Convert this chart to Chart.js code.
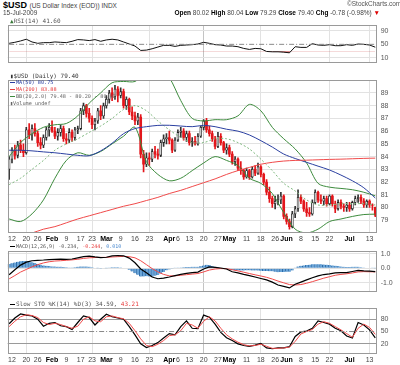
<!DOCTYPE html>
<html><head><meta charset="utf-8">
<script src="https://cdn.jsdelivr.net/npm/chart.js@4.4.1/dist/chart.umd.min.js"></script>
<style>
html,body{margin:0;padding:0;background:#fff}
body{width:400px;height:365px;position:relative;overflow:hidden;font-family:"Liberation Sans",Arial,sans-serif}
canvas{position:absolute;left:0}
.t{position:absolute;white-space:nowrap;line-height:1;z-index:5}
.m{font-family:"DejaVu Sans Mono",monospace;color:#555}
.dash{display:inline-block;width:5px;height:0;border-top:1px solid;vertical-align:middle;margin-right:1px}
</style></head><body>
<canvas id="rsi" width="400" height="54" style="top:17px"></canvas>
<canvas id="price" width="400" height="171" style="top:72px"></canvas>
<canvas id="macd" width="400" height="57" style="top:243px"></canvas>
<canvas id="sto" width="400" height="65" style="top:300px"></canvas>

<div class="t" style="left:3px;top:1px;font-size:9px;font-weight:bold;color:#000">$USD <span style="font-size:6.5px;font-weight:normal;color:#444">(US Dollar Index (EOD)) INDX</span></div>
<div class="t" style="left:3px;top:10px;font-size:6.5px;color:#444">15-Jul-2009</div>
<div class="t" style="left:347px;top:1px;font-size:6.5px;color:#555">&copy;StockCharts.com</div>
<div class="t" style="right:20px;top:10px;font-size:6.5px;color:#444"><b style="color:#000">Open</b> 80.02 <b style="color:#000">High</b> 80.04 <b style="color:#000">Low</b> 79.29 <b style="color:#000">Close</b> 79.40 <b style="color:#000">Chg</b> -0.78 (-0.98%) <span style="color:#d00">&#9660;</span></div>

<div class="t m" style="left:10px;top:18px;font-size:6px"><span style="color:#3a7a3a">&#9650;</span>RSI(14) 41.60</div>

<div class="t m" style="left:10px;top:73px;font-size:6px;color:#333">&#9646;$USD (Daily) 79.40</div>
<div class="t m" style="left:10px;top:80px;font-size:5.2px;color:#2a3fa0"><span class="dash" style="border-color:#2a3fa0"></span>MA(50) 80.75</div>
<div class="t m" style="left:10px;top:87px;font-size:5.2px;color:#e83c3c"><span class="dash" style="border-color:#e83c3c"></span>MA(200) 83.88</div>
<div class="t m" style="left:10px;top:94px;font-size:5.2px;color:#666"><span class="dash" style="border-color:#3d8b3d"></span>BB(20,2.0) 79.48 - 80.20 - 80.92</div>
<div class="t m" style="left:10px;top:101px;font-size:5.2px;color:#666">&#9646;Volume undef</div>

<div class="t m" style="left:10px;top:244px;font-size:5px;color:#555;background:#fff"><span class="dash" style="border-color:#000"></span>MACD(12,26,9) -0.234, <span style="color:#e83c3c">-0.244</span>, <span style="color:#4a8ad0">0.010</span></div>
<div class="t m" style="left:10px;top:301px;font-size:6px;color:#555"><span class="dash" style="border-color:#000"></span>Slow STO %K(14) %D(3) 34.59, <span style="color:#e83c3c">43.21</span></div>

<script>
// ---------- categories (trading days) ----------
const dates = ['1/9','1/12','1/13','1/14','1/15','1/16','1/20','1/21','1/22','1/23','1/26','1/27','1/28','1/29','1/30',
'2/2','2/3','2/4','2/5','2/6','2/9','2/10','2/11','2/12','2/13','2/17','2/18','2/19','2/20','2/23','2/24','2/25','2/26','2/27',
'3/2','3/3','3/4','3/5','3/6','3/9','3/10','3/11','3/12','3/13','3/16','3/17','3/18','3/19','3/20','3/23','3/24','3/25','3/26','3/27','3/30','3/31',
'4/1','4/2','4/3','4/6','4/7','4/8','4/9','4/13','4/14','4/15','4/16','4/17','4/20','4/21','4/22','4/23','4/24','4/27','4/28','4/29','4/30',
'5/1','5/4','5/5','5/6','5/7','5/8','5/11','5/12','5/13','5/14','5/15','5/18','5/19','5/20','5/21','5/22','5/26','5/27','5/28','5/29',
'6/1','6/2','6/3','6/4','6/5','6/8','6/9','6/10','6/11','6/12','6/15','6/16','6/17','6/18','6/19','6/22','6/23','6/24','6/25','6/26','6/29','6/30',
'7/1','7/2','7/6','7/7','7/8','7/9','7/10','7/13','7/14','7/15'];

// ---------- price (OHLC) ----------
const open = [83.0,83.8,84.5,84.1,84.9,84.5,84.3,86.1,85.7,86.2,85.8,85.1,84.9,85.5,86.1,
86.3,86.0,85.6,85.9,86.2,85.4,85.3,85.9,85.5,86.1,86.2,87.6,88.0,87.4,87.0,86.5,86.8,87.6,87.2,
88.0,88.5,89.0,88.7,89.3,88.8,89.1,88.0,88.5,87.5,87.2,86.8,87.1,84.2,83.4,83.9,83.8,84.4,84.2,84.1,85.1,85.4,
85.5,85.3,84.5,85.3,85.9,86.0,85.5,85.8,85.1,85.2,85.0,85.6,86.3,86.8,86.1,85.8,85.4,84.8,85.6,85.1,84.5,
84.7,84.2,83.6,83.8,83.1,82.9,82.4,82.9,82.4,83.0,82.7,83.2,82.6,82.0,81.2,80.7,80.3,80.5,80.6,80.9,
79.3,78.9,78.5,79.5,79.9,80.8,80.5,79.9,79.6,79.5,80.4,81.2,80.6,80.5,80.7,80.3,80.9,80.3,79.9,80.4,80.1,80.0,
80.2,79.9,80.4,80.7,80.8,80.5,80.2,80.5,80.2,80.02];
const high = [84.0,84.7,84.9,85.2,85.3,85.0,86.3,86.6,86.5,86.6,86.0,85.5,85.7,86.3,86.6,
86.8,86.3,86.2,86.5,86.4,85.8,86.2,86.1,86.3,86.4,87.8,88.2,88.1,87.8,87.2,87.0,87.8,88.0,88.2,
88.8,89.2,89.4,89.6,89.5,89.4,89.3,88.7,88.6,87.9,87.5,87.4,87.3,84.5,84.3,84.3,84.6,84.8,84.6,85.3,85.7,85.8,
86.0,85.4,85.5,86.1,86.3,86.2,86.0,86.0,85.5,85.6,85.8,86.4,86.9,87.0,86.4,86.0,85.6,85.9,85.8,85.2,85.0,
84.9,84.4,84.0,83.9,83.6,83.0,83.1,83.0,83.2,83.3,83.5,83.3,82.7,82.2,81.6,80.9,80.9,81.0,81.2,81.0,
79.5,79.1,79.7,80.1,81.4,81.0,80.6,80.4,80.0,80.6,81.4,81.3,81.0,80.9,80.9,81.0,81.0,80.5,80.6,80.6,80.3,80.4,
80.4,80.5,80.9,81.0,81.0,80.7,80.6,80.6,80.3,80.04];
const low = [82.2,83.5,83.8,83.9,84.3,84.0,84.2,85.4,85.3,85.6,84.8,84.6,84.7,85.3,85.6,
85.9,85.4,85.3,85.6,85.2,85.0,85.1,85.2,85.3,85.8,86.1,87.3,87.1,86.7,86.2,86.1,86.6,86.9,87.0,
87.8,88.2,88.4,88.5,88.3,88.6,87.8,87.7,87.3,86.9,86.5,86.5,83.9,82.8,83.2,83.3,83.6,83.9,83.8,84.0,84.8,85.0,
85.0,84.3,84.4,85.2,85.5,85.3,85.2,84.9,84.8,84.9,84.9,85.5,86.1,85.9,85.6,85.2,84.6,84.7,84.9,84.3,84.2,
84.0,83.4,83.3,82.9,82.6,82.2,82.3,82.2,82.3,82.5,82.6,82.4,81.8,81.0,80.4,80.0,79.9,80.2,80.3,79.1,
78.7,78.3,78.4,79.2,79.7,80.3,79.7,79.3,79.3,79.4,80.3,80.4,80.3,80.2,80.1,80.2,80.1,79.6,79.8,79.9,79.7,79.7,
79.7,79.8,80.2,80.4,80.3,80.0,80.0,80.0,79.8,79.29];
const close = [83.8,84.5,84.1,84.9,84.5,84.3,86.1,85.7,86.2,85.8,85.1,84.9,85.5,86.1,86.3,
86.0,85.6,85.9,86.2,85.4,85.3,85.9,85.5,86.1,86.2,87.6,88.0,87.4,87.0,86.5,86.8,87.6,87.2,88.0,
88.5,89.0,88.7,89.3,88.8,89.1,88.0,88.5,87.5,87.2,86.8,87.1,84.2,83.4,83.9,83.8,84.4,84.2,84.1,85.1,85.4,85.5,
85.3,84.5,85.3,85.9,86.0,85.5,85.8,85.1,85.2,85.0,85.6,86.3,86.8,86.1,85.8,85.4,84.8,85.6,85.1,84.5,84.7,
84.2,83.6,83.8,83.1,82.9,82.4,82.9,82.4,83.0,82.7,83.2,82.6,82.0,81.2,80.7,80.3,80.5,80.6,80.9,79.3,
78.9,78.5,79.5,79.9,80.8,80.5,79.9,79.6,79.5,80.4,81.2,80.6,80.5,80.7,80.3,80.9,80.3,79.9,80.4,80.1,80.0,80.2,
79.9,80.4,80.7,80.8,80.5,80.2,80.5,80.2,80.18,79.40];

// ---------- overlays (sampled every 4 trading days) ----------
const lineDates = ['1/9','1/15','1/22','1/28','2/3','2/9','2/13','2/20','2/26','3/4','3/10','3/16','3/20','3/26','4/1','4/7','4/14',
'4/20','4/24','4/30','5/6','5/12','5/18','5/22','5/29','6/4','6/10','6/16','6/22','6/26','7/2','7/9','7/15'];
const ma50 = [84.5,84.5,84.45,84.37,84.3,84.2,84.1,84.07,84.45,85.05,85.8,86.2,86.35,86.45,86.46,86.4,86.35,
86.45,86.35,86.15,86.0,85.7,85.25,84.75,84.2,83.85,83.55,83.25,82.95,82.55,82.1,81.55,80.75];
const ma200 = [77.6,77.8,78.0,78.3,78.5,78.8,79.1,79.35,79.6,79.85,80.1,80.3,80.55,80.8,81.1,81.35,81.65,
81.95,82.25,82.6,82.9,83.15,83.4,83.55,83.65,83.7,83.72,83.75,83.78,83.8,83.83,83.86,83.88];
const bbUpper = [84.0,85.1,85.8,86.3,86.5,86.6,87.2,88.2,89.0,89.8,89.9,89.9,90.6,91.0,90.2,88.4,87.0,
86.8,86.9,86.9,87.2,88.1,87.6,86.3,85.4,84.6,83.5,81.9,81.6,81.5,81.4,81.2,80.92];
const bbMid = [81.8,82.3,83.0,83.7,84.5,85.0,85.4,85.9,86.4,87.0,87.7,88.0,87.6,86.8,86.1,85.5,85.1,
85.1,85.4,85.4,85.1,84.6,83.8,82.9,81.9,81.3,80.6,80.2,80.2,80.3,80.3,80.3,80.20];
const bbLower = [79.1,78.9,79.5,80.6,82.3,83.7,84.3,84.1,84.4,85.0,85.6,86.3,83.6,82.6,82.1,82.3,82.9,
83.5,84.0,83.7,83.3,82.3,81.9,81.1,79.6,78.3,78.0,78.3,78.9,79.1,79.3,79.45,79.48];

// ---------- oscillators (sampled every 2 trading days) ----------
const oscDates = ['1/9','1/13','1/15','1/20','1/22','1/26','1/28','1/30','2/3','2/5','2/9','2/11','2/13','2/18','2/20','2/24','2/26',
'3/2','3/4','3/6','3/10','3/12','3/16','3/18','3/20','3/24','3/26','3/30','4/1','4/3','4/7','4/9','4/14','4/16','4/20','4/22','4/24',
'4/28','4/30','5/4','5/6','5/8','5/12','5/14','5/18','5/20','5/22','5/27','5/29','6/2','6/4','6/8','6/10','6/12','6/16','6/18',
'6/22','6/24','6/26','6/30','7/2','7/7','7/9','7/13','7/15'];
const rsi = [53,56,60,65,57,53,55,55,57,56,55,59,64,63,61,64,59,63,65,63,57,51,45,32,33,37,42,47,47,44,47,48,49,51,56,
53,49,48,45,45,43,38,35,38,37,29,28,28,27,25,43,41,41,52,48,47,49,46,46,49,47,51,50,48,41.6];
const macd = [-0.44,-0.1,0.22,0.42,0.52,0.55,0.57,0.6,0.62,0.63,0.62,0.64,0.72,0.8,0.83,0.78,0.74,0.76,0.85,0.88,
0.86,0.7,0.38,-0.05,-0.3,-0.6,-0.72,-0.68,-0.6,-0.5,-0.42,-0.35,-0.3,-0.26,-0.05,0.1,0.06,0.02,-0.05,-0.24,
-0.32,-0.42,-0.5,-0.6,-0.7,-0.8,-0.95,-1.15,-1.25,-1.35,-1.1,-0.95,-0.8,-0.65,-0.52,-0.43,-0.38,-0.32,-0.3,-0.3,
-0.22,-0.15,-0.18,-0.2,-0.234];
const macdSignal = [-0.73,-0.5,-0.26,-0.08,0.1,0.25,0.37,0.45,0.5,0.52,0.55,0.58,0.62,0.68,0.72,0.74,0.75,0.75,0.78,0.8,
0.82,0.8,0.72,0.52,0.25,-0.02,-0.25,-0.42,-0.52,-0.52,-0.48,-0.44,-0.4,-0.36,-0.25,-0.12,-0.05,-0.02,-0.03,-0.1,
-0.18,-0.27,-0.36,-0.45,-0.53,-0.62,-0.74,-0.88,-1.0,-1.12,-1.15,-1.12,-1.03,-0.92,-0.8,-0.68,-0.58,-0.48,-0.42,-0.38,
-0.32,-0.25,-0.23,-0.24,-0.244];
const macdHist = [0.29,0.35,0.40,0.45,0.48,0.50,0.50,0.48,0.42,
0.36,0.30,0.25,0.20,0.17,0.15,0.13,0.12,
0.11,0.11,0.09,0.07,0.06,0.06,0.08,0.10,
0.12,0.12,0.12,0.11,0.08,0.04,0.01,-0.01,0.00,0.01,
0.05,0.07,0.08,0.08,0.06,0.04,0.00,
-0.10,-0.22,-0.34,-0.45,-0.57,-0.56,-0.55,-0.57,-0.58,
-0.52,-0.47,-0.36,-0.26,-0.14,-0.08,-0.02,0.02,0.05,
0.06,0.08,0.09,0.09,0.10,0.10,0.10,0.14,
0.20,0.24,0.22,0.15,0.11,0.07,0.04,0.00,-0.02,
-0.06,-0.11,-0.14,-0.14,-0.15,-0.15,-0.14,-0.14,-0.15,-0.15,-0.16,-0.17,-0.18,-0.18,-0.20,-0.21,-0.24,-0.27,-0.25,-0.25,-0.24,-0.23,-0.15,
0.05,0.12,0.17,0.20,0.23,0.25,0.27,0.28,0.28,0.27,0.26,0.25,0.22,0.20,0.18,0.15,0.12,0.10,0.09,0.09,0.10,
0.11,0.10,0.08,0.05,0.04,0.03,0.02,0.01];
const stoK = [69,83,93,90,88,80,63,70,72,64,62,55,72,88,84,66,80,92,86,83,80,62,42,20,11,16,23,34,45,42,62,76,58,57,90,
85,68,48,35,28,20,16,14,17,21,10,8,10,10,13,38,49,51,58,76,72,68,58,52,39,34,72,66,54,34.59];
const stoD = [62,75,86,91,89,84,72,67,70,67,62,58,63,80,86,76,74,86,88,84,81,70,52,32,16,13,19,28,40,42,52,70,66,58,75,
86,76,58,42,32,24,18,15,16,19,14,9,9,10,12,26,44,50,55,68,74,70,62,54,45,36,58,68,60,43.21];

// ---------- tick labels ----------
const xTickLabels = {'1/12':'12','1/20':'20','1/26':'26','2/2':'Feb','2/9':'9','2/17':'17','2/23':'23','3/2':'Mar','3/9':'9',
'3/16':'16','3/23':'23','3/30':'','4/1':'Apr','4/6':'6','4/13':'13','4/20':'20','4/27':'27','5/1':'May','5/4':'','5/11':'11','5/18':'18',
'5/26':'26','6/1':'Jun','6/8':'8','6/15':'15','6/22':'22','6/29':'','7/1':'Jul','7/6':'','7/13':'13'};
const monthLabels = ['Feb','Mar','Apr','May','Jun','Jul'];
const rsiTicks = [90,70,50,30,10];
const priceTicks = [79,80,81,82,83,84,85,86,87,88,89];
const macdTicks = [1.0,0.5,0.0,-0.5,-1.0,-1.5];
const stoTicks = [80,50,20];

// ---------- helpers ----------
Chart.defaults.font.family = '"Liberation Sans", Arial, sans-serif';
const RED = '#e3161b', BLUE = '#2a3fa0', GREEN = '#3d8b3d';
const pts = (ds, vs) => ds.map((d, i) => ({x: d, y: vs[i]}));
const frame = {id: 'frame', afterDraw(c) {
  const a = c.chartArea, x = c.ctx; x.save(); x.strokeStyle = '#9a9a9a'; x.lineWidth = 1;
  x.strokeRect(Math.round(a.left) + 0.5, Math.round(a.top) + 0.5, Math.round(a.right - a.left) - 1, Math.round(a.bottom - a.top) - 1);
  x.restore(); }};
const isMonthTick = c => !!(c.tick && monthLabels.includes(c.tick.label));
function xGridColor(i) {
  const lab = xTickLabels[dates[i]];
  if (lab === undefined) return 'rgba(0,0,0,0)';
  return monthLabels.includes(lab) ? '#c4c4c4' : '#e2e2e2';
}
function xAxis(show, h) {
  return {type: 'category', offset: true,
    grid: {offset: false, drawTicks: false, color: c => xGridColor(c.index), lineWidth: 1},
    border: {display: false},
    afterFit: s => { s.height = h; },
    ticks: {display: show, autoSkip: false, maxRotation: 0, minRotation: 0, padding: 2,
      color: c => isMonthTick(c) ? '#000' : '#444',
      font: c => ({size: 7, weight: isMonthTick(c) ? 'bold' : 'normal'}),
      callback: (v, i) => { const l = xTickLabels[dates[i]]; return l === undefined ? null : l; }}};
}
function yAxis(min, max, ticks, fmt, gcol) {
  return {position: 'right', min, max,
    afterBuildTicks: s => { s.ticks = ticks.map(v => ({value: v})); },
    afterFit: s => { s.width = 23.3; },
    grid: {drawTicks: false, color: c => gcol(c.tick ? c.tick.value : null)},
    border: {display: false},
    ticks: {padding: 4, color: '#555', font: {size: 7}, callback: v => fmt(v)}};
}
const baseOpts = {responsive: false, animation: false, events: [],
  layout: {padding: {left: 7.7, right: 0, top: 0, bottom: 0}},
  plugins: {legend: {display: false}, tooltip: {enabled: false}}};
const flat = (v) => [{x: dates[0], y: v}, {x: dates[dates.length - 1], y: v}];

// ---------- RSI ----------
new Chart(document.getElementById('rsi'), {type: 'line',
  data: {labels: dates, datasets: [
    {data: flat(50), borderColor: '#888', borderWidth: 1, borderDash: [5, 2, 1, 2], pointRadius: 0},
    {data: pts(oscDates, rsi), borderColor: '#111', borderWidth: 1, pointRadius: 0, tension: 0,
     fill: {target: {value: 30}, above: 'rgba(0,0,0,0)', below: '#c83a3a'}}]},
  options: {...baseOpts, scales: {x: xAxis(false, 0),
    y: yAxis(-4.4, 106.4, rsiTicks, v => String(v), v => (v === 70 || v === 30) ? '#9a9a9a' : (v === 50 ? 'rgba(0,0,0,0)' : '#e2e2e2'))}},
  plugins: [frame]});

// ---------- Price ----------
const isUp = close.map((c, i) => c >= open[i]);
new Chart(document.getElementById('price'), {type: 'bar',
  data: {labels: dates, datasets: [
    {type: 'line', data: pts(lineDates, ma200), borderColor: '#f04a4a', borderWidth: 1, pointRadius: 0, tension: 0.3, order: 0},
    {type: 'line', data: pts(lineDates, ma50), borderColor: BLUE, borderWidth: 1, pointRadius: 0, tension: 0.3, order: 0},
    {type: 'line', data: pts(lineDates, bbUpper), borderColor: GREEN, borderWidth: 1, pointRadius: 0, tension: 0.3, order: 0},
    {type: 'line', data: pts(lineDates, bbLower), borderColor: GREEN, borderWidth: 1, pointRadius: 0, tension: 0.3, order: 0},
    {type: 'line', data: pts(lineDates, bbMid), borderColor: '#7fb87f', borderWidth: 1, borderDash: [2, 2], pointRadius: 0, tension: 0.3, order: 0},
    {data: dates.map((d, i) => [open[i], close[i]]), barThickness: 2, grouped: false, order: 1, borderSkipped: false,
     backgroundColor: isUp.map(u => u ? '#fff' : RED), borderColor: isUp.map(u => u ? '#222' : RED), borderWidth: isUp.map(u => u ? 0.8 : 0)},
    {data: dates.map((d, i) => [low[i], high[i]]), barThickness: 1, grouped: false, order: 2,
     backgroundColor: isUp.map(u => u ? '#333' : RED)}]},
  options: {...baseOpts, scales: {x: xAxis(true, 10),
    y: yAxis(78.0, 90.0, priceTicks, v => String(v), v => '#e2e2e2')}},
  plugins: [frame]});

// ---------- MACD ----------
new Chart(document.getElementById('macd'), {type: 'bar',
  data: {labels: dates, datasets: [
    {type: 'line', data: pts(oscDates, macd), borderColor: '#000', borderWidth: 1.2, pointRadius: 0, order: 0},
    {type: 'line', data: pts(oscDates, macdSignal), borderColor: '#f04a4a', borderWidth: 1, pointRadius: 0, order: 0},
    {data: macdHist, barPercentage: 1, categoryPercentage: 1, backgroundColor: '#6aa5d8', borderColor: '#2c6aa8',
     borderWidth: {left: 1, right: 0, top: 0, bottom: 0}, borderSkipped: false, order: 1}]},
  options: {...baseOpts, scales: {x: xAxis(false, 0),
    y: yAxis(-1.618, 1.176, macdTicks, v => v.toFixed(1), v => '#e2e2e2')}},
  plugins: [frame]});

// ---------- Slow Stochastic ----------
new Chart(document.getElementById('sto'), {type: 'line',
  data: {labels: dates, datasets: [
    {data: flat(50), borderColor: '#888', borderWidth: 1, borderDash: [5, 2, 1, 2], pointRadius: 0},
    {data: pts(oscDates, stoD), borderColor: '#f04a4a', borderWidth: 1, pointRadius: 0},
    {data: pts(oscDates, stoK), borderColor: '#000', borderWidth: 1.2, pointRadius: 0}]},
  options: {...baseOpts, scales: {x: xAxis(true, 11),
    y: yAxis(-4.8, 106.9, stoTicks, v => String(v), v => (v === 80 || v === 20) ? '#9a9a9a' : 'rgba(0,0,0,0)')}},
  plugins: [frame]});
</script>
</body></html>
